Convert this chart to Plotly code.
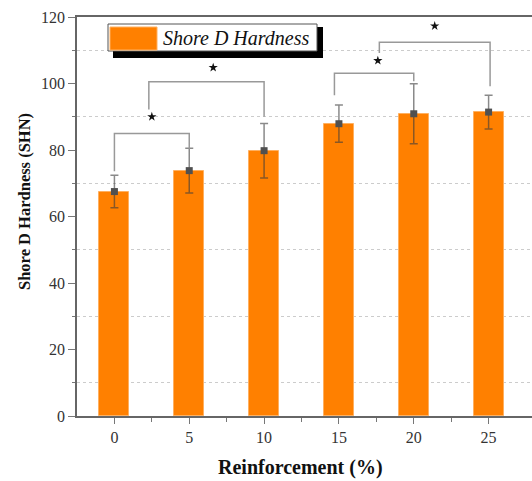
import plotly.graph_objects as go

# ---- data ----
reinforcement = [0, 5, 10, 15, 20, 25]
hardness = [67.5, 73.8, 79.8, 87.9, 90.9, 91.4]
hardness_err = [4.9, 6.7, 8.2, 5.6, 9.0, 5.1]

# significance brackets: left x, right x, left foot y, right foot y, top y
br_x_left = [0, 2.3, 14.7, 17.7]
br_x_right = [5, 10, 20, 25.1]
br_y_left = [73.6, 92.2, 96.5, 109.2]
br_y_right = [80.4, 90.0, 100.7, 99.2]
br_y_top = [85.0, 100.5, 103.1, 112.4]
star_x = [2.5, 6.6, 17.6, 21.4]
star_y = [90.0, 104.8, 106.9, 117.3]

x_ticks = [0, 5, 10, 15, 20, 25]
x_minor_ticks = [2.5, 7.5, 12.5, 17.5, 22.5]
y_ticks = [0, 20, 40, 60, 80, 100, 120]

W, H = 532, 481
ML, MR, MT, MB = 77, 0, 17, 65
PW, PH = W - ML - MR, H - MT - MB

def px(xp):
    return (xp - ML) / PW

def py(yp):
    return (H - MB - yp) / PH

fig = go.Figure()

fig.add_trace(go.Bar(
    x=reinforcement, y=hardness, width=2,
    marker=dict(color="#FF8000", line=dict(color="#FFB060", width=1)),
    error_y=dict(type="data", array=hardness_err, visible=True,
                 color="rgba(60,60,60,0.6)", thickness=1.5, width=4),
    showlegend=False,
))

fig.add_trace(go.Scatter(
    x=reinforcement, y=hardness, mode="markers",
    marker=dict(symbol="square", size=7, color="#505050"),
    showlegend=False,
))

for i in range(len(br_x_left)):
    fig.add_trace(go.Scatter(
        x=[br_x_left[i], br_x_left[i], br_x_right[i], br_x_right[i]],
        y=[br_y_left[i], br_y_top[i], br_y_top[i], br_y_right[i]],
        mode="lines", line=dict(color="#999999", width=1.5),
        showlegend=False, hoverinfo="skip",
    ))

fig.add_trace(go.Scatter(
    x=star_x, y=star_y, mode="markers",
    marker=dict(symbol="star", size=7, color="#111111"),
    showlegend=False,
))

# custom legend with drop shadow
shapes = [
    dict(type="rect", xref="paper", yref="paper",
         x0=px(113), x1=px(323), y0=py(58), y1=py(27),
         fillcolor="black", line=dict(width=0)),
    dict(type="rect", xref="paper", yref="paper",
         x0=px(108), x1=px(317), y0=py(51), y1=py(24),
         fillcolor="white", line=dict(color="#555555", width=1)),
    dict(type="rect", xref="paper", yref="paper",
         x0=px(110), x1=px(157), y0=py(50), y1=py(27),
         fillcolor="#FF8000", line=dict(color="#FFB060", width=1)),
]

annotations = [
    dict(text="<i>Shore D Hardness</i>", xref="paper", yref="paper",
         x=px(161), y=py(38), xanchor="left", yanchor="middle",
         showarrow=False,
         font=dict(family="Liberation Serif", size=20, color="#111111")),
    dict(text="<b>Reinforcement (%)</b>", xref="paper", yref="paper",
         x=px(300), y=py(467), xanchor="center", yanchor="middle",
         showarrow=False,
         font=dict(family="Liberation Serif", size=20, color="#111111")),
    dict(text="<b>Shore D Hardness (SHN)</b>", xref="paper", yref="paper",
         x=px(24), y=py(202), xanchor="center", yanchor="middle",
         textangle=-90, showarrow=False,
         font=dict(family="Liberation Serif", size=16.5, color="#111111")),
]

fig.update_layout(
    width=W, height=H,
    margin=dict(l=ML, r=MR, t=MT, b=MB, autoexpand=False),
    paper_bgcolor="white", plot_bgcolor="white",
    shapes=shapes, annotations=annotations,
    showlegend=False,
    bargap=0,
    xaxis=dict(
        range=[-2.5, 27.9], automargin=False,
        tickmode="array", tickvals=x_ticks, ticktext=[str(v) for v in x_ticks],
        ticks="outside", ticklen=6, tickwidth=1, tickcolor="#777777",
        showline=True, linecolor="#666666", linewidth=1.5, mirror=True,
        showgrid=False, zeroline=False,
        tickfont=dict(family="Liberation Serif", size=16, color="#333333"),
        minor=dict(tickmode="array", tickvals=x_minor_ticks, ticks="outside",
                   ticklen=4, tickcolor="#777777", showgrid=False),
    ),
    yaxis=dict(
        range=[0, 120], automargin=False,
        tickmode="array", tickvals=y_ticks, ticktext=[str(v) for v in y_ticks],
        ticks="outside", ticklen=7, tickwidth=1, tickcolor="#777777",
        showline=True, linecolor="#666666", linewidth=1.5,
        showgrid=False, zeroline=False,
        tickfont=dict(family="Liberation Serif", size=16, color="#333333"),
        minor=dict(tickmode="linear", tick0=10, dtick=20, ticks="outside",
                   ticklen=3, tickcolor="#777777", showgrid=True,
                   gridcolor="#cccccc", griddash="dot", gridwidth=1),
    ),
)

fig.write_html(
    "out.html",
    config={"displayModeBar": False},
    post_script="document.body.style.margin='0';document.body.style.overflow='hidden';",
)
